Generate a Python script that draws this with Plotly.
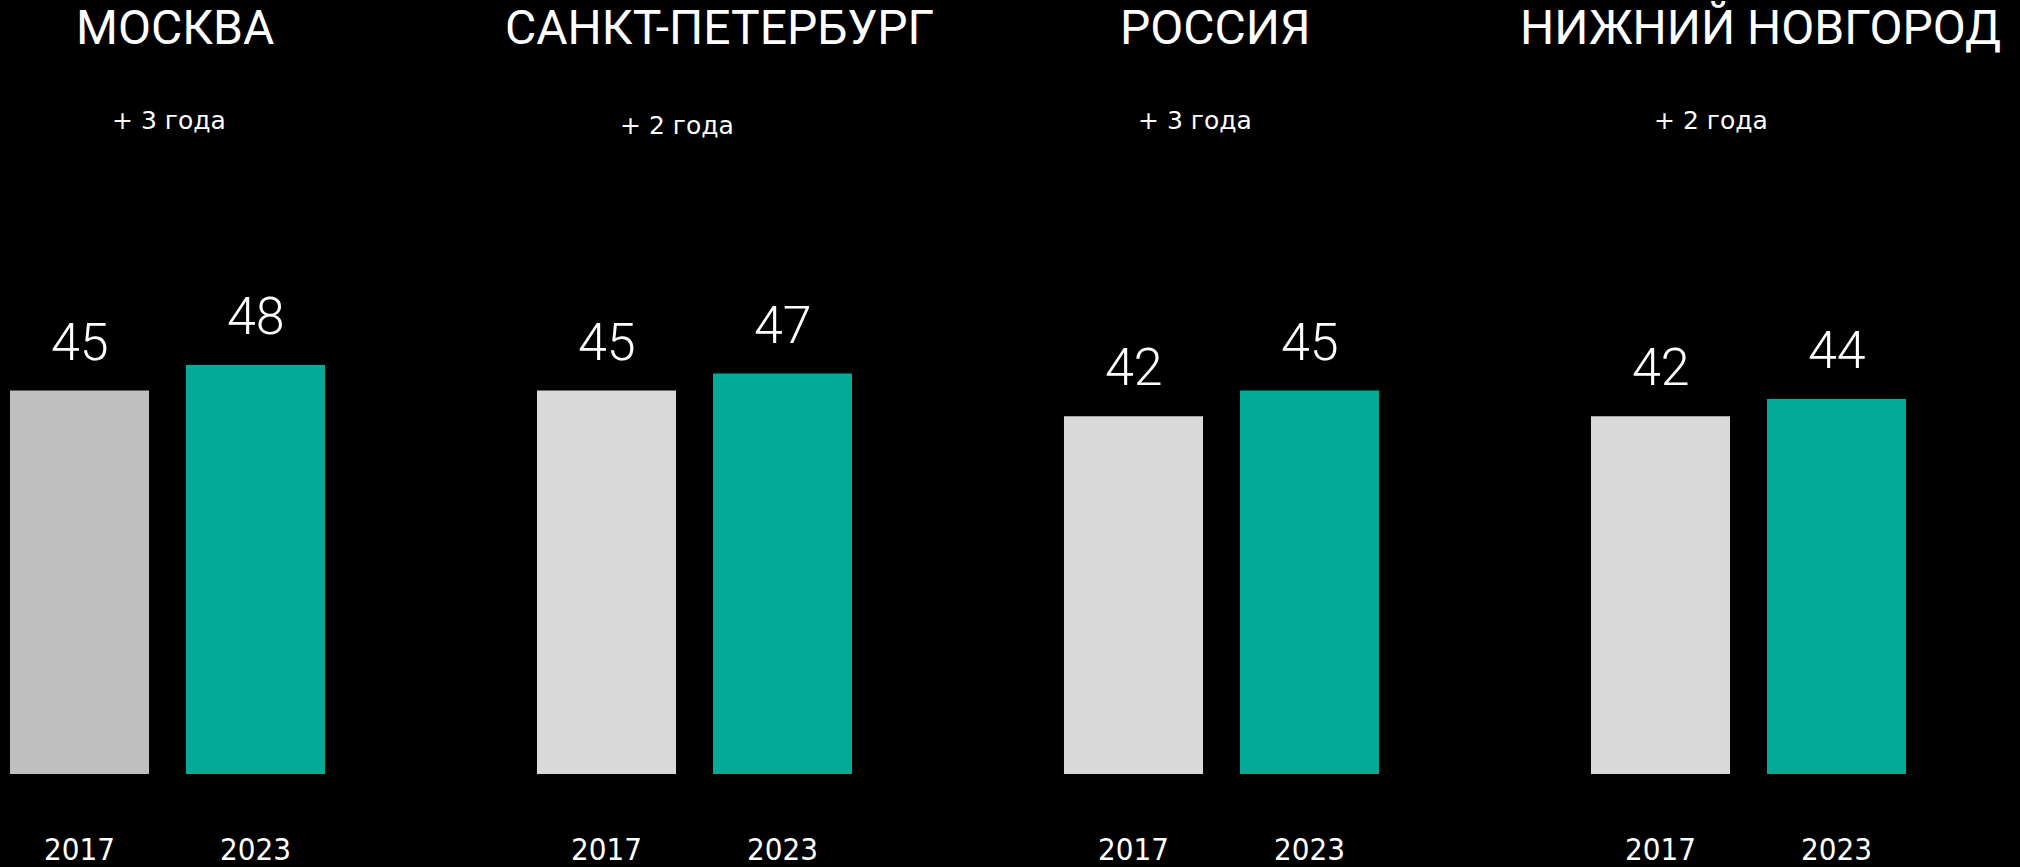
import plotly.graph_objects as go

# ---- data ----
regions = ["МОСКВА", "САНКТ-ПЕТЕРБУРГ", "РОССИЯ", "НИЖНИЙ НОВГОРОД"]
years = ["2017", "2023"]
values_2017 = [45, 45, 42, 42]
values_2023 = [48, 47, 45, 44]
deltas = ["+ 3 года", "+ 2 года", "+ 3 года", "+ 2 года"]

# ---- styling / layout ----
W, H = 2020, 867
MB = 93                      # bottom margin
PLOT_H = H - MB              # plot height in px
PX_PER_UNIT = 8.52
YMAX = PLOT_H / PX_PER_UNIT

color_2017 = ["#bfbfbf", "#d9d9d9", "#d9d9d9", "#d9d9d9"]
color_2023 = "#03ab96"

group_left_px = [0, 527, 1054, 1581]   # left edge of each subplot domain
slot_px = 176
first_center_off = 79.5
title_x_px = [175, 719.5, 1215, 1760]
title_y_px = [28, 28, 28, 28]
sub_x_px = [169, 676.5, 1194.5, 1711]
sub_y_px = [121, 125.5, 121, 121]

FONT = "Roboto, 'Open Sans', sans-serif"
SUBFONT = "'DejaVu Sans', Roboto, sans-serif"
NARROW = "'Liberation Sans Narrow', 'DejaVu Sans Condensed', Roboto, sans-serif"


def px_y(p):
    return 1 - p / PLOT_H


fig = go.Figure()
annotations = []
layout_axes = {}
for i, reg in enumerate(regions):
    n = "" if i == 0 else str(i + 1)
    vals = [values_2017[i], values_2023[i]]
    fig.add_trace(go.Bar(
        x=years,
        y=vals,
        marker=dict(color=[color_2017[i], color_2023], line=dict(width=0)),
        xaxis="x" + n, yaxis="y" + n,
        showlegend=False, hoverinfo="skip",
    ))
    d0 = group_left_px[i]
    d1 = d0 + first_center_off + slot_px + slot_px / 2
    r0 = -first_center_off / slot_px
    layout_axes["xaxis" + n] = dict(
        domain=[d0 / W, d1 / W], range=[r0, 1.5], type="category",
        anchor="y" + n, showgrid=False, zeroline=False, showline=False,
        ticks="", ticklabelstandoff=54, automargin=False,
        tickfont=dict(family=NARROW, size=31, color="white"),
    )
    layout_axes["yaxis" + n] = dict(
        domain=[0, 1], range=[0, YMAX], anchor="x" + n,
        showgrid=False, zeroline=False, showline=False, showticklabels=False,
        ticks="", automargin=False,
    )
    for j, v in enumerate(vals):
        annotations.append(dict(
            x=j, y=v, xref="x" + n, yref="y" + n, text=str(v),
            showarrow=False, xanchor="center", yanchor="bottom", yshift=16,
            font=dict(family=FONT, size=52, color="white", weight=300),
        ))
    annotations.append(dict(
        x=title_x_px[i] / W, y=px_y(title_y_px[i]), xref="paper", yref="paper",
        text=reg, showarrow=False, xanchor="center", yanchor="middle",
        font=dict(family=FONT, size=48, color="white"),
    ))
    annotations.append(dict(
        x=sub_x_px[i] / W, y=px_y(sub_y_px[i]), xref="paper", yref="paper",
        text=deltas[i], showarrow=False, xanchor="center", yanchor="middle",
        font=dict(family=SUBFONT, size=25, color="white"),
    ))

fig.update_layout(
    width=W, height=H,
    margin=dict(l=0, r=0, t=0, b=MB, autoexpand=False),
    paper_bgcolor="black", plot_bgcolor="black",
    bargap=0.21,
    annotations=annotations,
    **layout_axes,
)

fig.write_html(
    "out.html",
    config={"displayModeBar": False},
    post_script="document.body.style.margin='0';document.body.style.background='black';",
)
